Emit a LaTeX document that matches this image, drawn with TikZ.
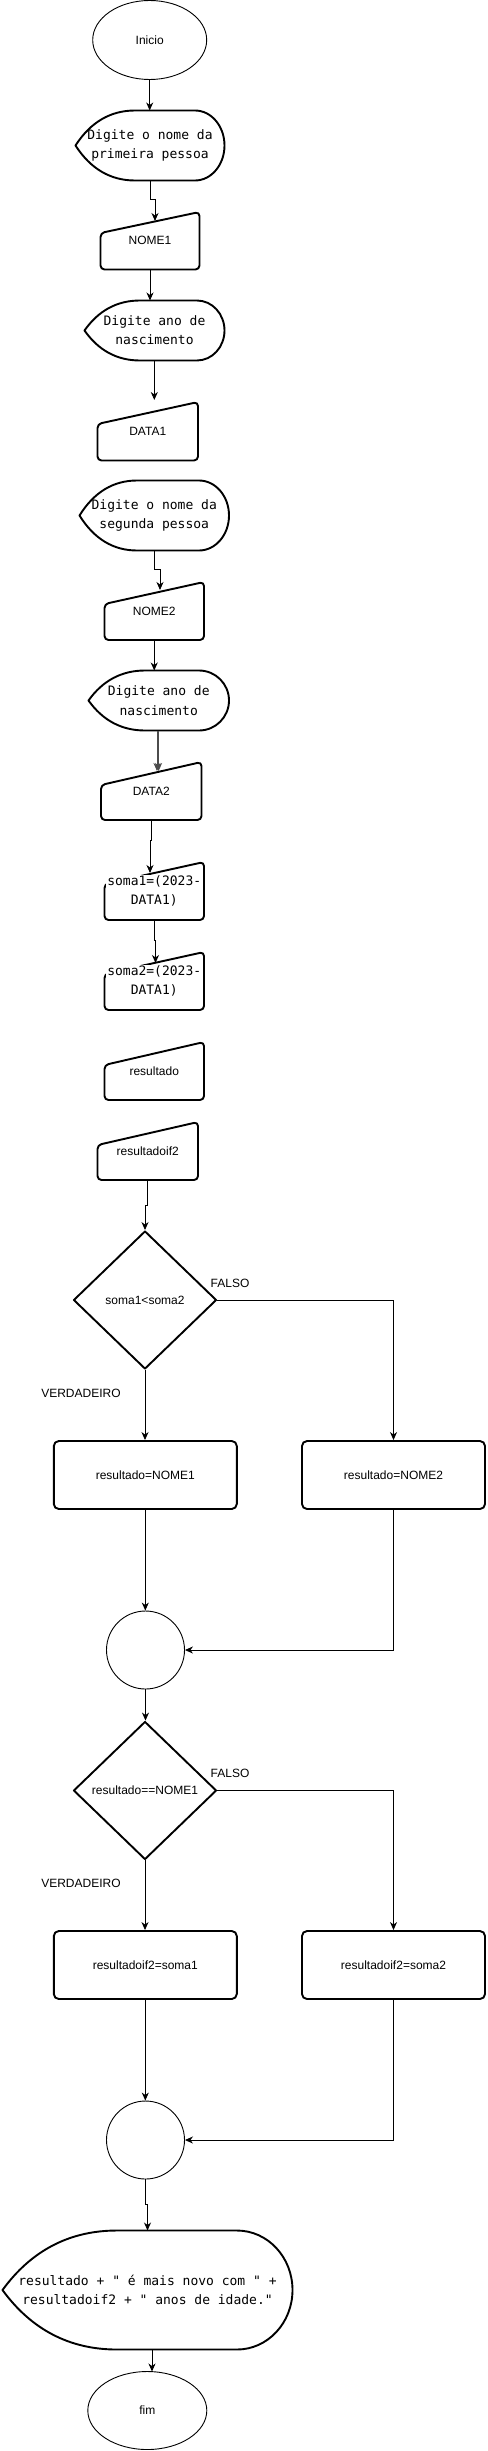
\documentclass[tikz,border=0pt]{standalone}
\usepackage{fontspec}
\setmainfont{Liberation Sans}
\newfontfamily\monof{DejaVu Sans Mono}
\usetikzlibrary{arrows.meta,shapes.geometric}
\tikzset{
  shp/.style={line width=1.9pt, line join=round},
  thinln/.style={line width=0.9pt},
  arr/.style={line width=0.9pt, -{Stealth[length=8pt,width=7pt,inset=2.5pt]}},
  bx/.style={draw=none, inner sep=0pt, outer sep=0pt},
  lbl/.style={font=\fontsize{12}{14}\selectfont, inner sep=0pt},
  mtxt/.style={font=\monof\fontsize{13}{19.3}\selectfont, align=center},
  proc/.style={draw, shp, rounded corners=5pt, minimum width=183, minimum height=68, inner sep=0pt, lbl},
  dec/.style={draw, shp, diamond, minimum width=143, minimum height=138, inner sep=0pt, lbl},
  conn/.style={draw, thinln, circle, minimum size=78, inner sep=0pt},
  term/.style={draw, thinln, ellipse, inner sep=0pt, lbl},
}
% manual input: name, x1, x2, yTL, yTR, yB, text
\newcommand\mninput[7]{%
  \draw[shp,rounded corners=4pt] (#2,#4) -- (#3,#5) -- (#3,#6) -- (#2,#6) -- cycle;
  \node[bx,lbl,minimum width={#3-#2},minimum height={#5-#6}] (#1) at ({(#2+#3)/2},{(#5+#6)/2}) {#7};
}
% display: name, x0, xa, xb, x1, ytop, ybot, text
\newcommand\dispshape[8]{%
  \pgfmathsetmacro\dspM{(#6+#7)/2}%
  \pgfmathsetmacro\dspH{(#6-#7)/2}%
  \pgfmathsetmacro\dspL{#3-#2}%
  \pgfmathsetmacro\dspR{#5-#4}%
  \draw[shp] (#2,\dspM) .. controls ({#2+0.253*\dspL},{\dspM+0.667*\dspH}) and ({#2+0.587*\dspL},#6) .. (#3,#6)
     -- (#4,#6) arc[start angle=90,end angle=-90,x radius=\dspR pt,y radius=\dspH pt]
     -- (#3,#7) .. controls ({#2+0.587*\dspL},#7) and ({#2+0.253*\dspL},{\dspM-0.667*\dspH}) .. cycle;
  \node[bx,mtxt,minimum width={#5-#2},minimum height={#6-#7}] (#1) at ({(#2+#5)/2},\dspM) {#8};
}
\begin{document}
\begin{tikzpicture}[x=1pt,y=1pt]
\useasboundingbox[fill=white] (0,0) rectangle (487,-2451);

\node[term,minimum width=114,minimum height=79] (ini) at (149.7,-40) {Inicio};

\dispshape{d1}{75.5}{135}{195}{224.5}{-110.5}{-180.5}{Digite o nome da\\primeira pessoa}
\mninput{nm1}{100.5}{199.5}{-233}{-212}{-269.5}{NOME1}
\dispshape{d2}{84.5}{140}{197}{224.5}{-300.5}{-360.5}{Digite ano de\\nascimento}
\mninput{dt1}{97.5}{198}{-424}{-402}{-460.5}{DATA1}
\dispshape{d3}{79.5}{137}{199}{229}{-480.5}{-550.5}{Digite o nome da\\segunda pessoa}
\mninput{nm2}{104.5}{204}{-604}{-582}{-640}{NOME2}
\dispshape{d4}{88.5}{145}{199}{229}{-670.5}{-730.5}{Digite ano de\\nascimento}
\mninput{dt2}{101}{201.5}{-785}{-762}{-820}{DATA2}
\mninput{s1}{104.5}{204}{-884}{-862}{-920}{}
\node[mtxt,fill=white,inner sep=1pt] (s1t) at (s1) {soma1=(2023-\\DATA1)};
\mninput{s2}{104.5}{204}{-974}{-952}{-1010}{}
\node[mtxt,fill=white,inner sep=1pt] (s2t) at (s2) {soma2=(2023-\\DATA1)};
\mninput{res}{104.5}{204}{-1065}{-1042}{-1100}{resultado}
\mninput{ri2}{97.5}{198}{-1145}{-1122}{-1180}{resultadoif2}

\node[dec] (dia1) at (145,-1300) {soma1<soma2};
\node[proc] (p1) at (145.3,-1475) {resultado=NOME1};
\node[proc] (p2) at (393.5,-1475) {resultado=NOME2};
\node[conn] (c1) at (145.5,-1650) {};
\node[dec] (dia2) at (145,-1790.5) {resultado==NOME1};
\node[proc] (p3) at (145.3,-1965) {resultadoif2=soma1};
\node[proc] (p4) at (393.5,-1965) {resultadoif2=soma2};
\node[conn] (c2) at (145.5,-2140) {};
\dispshape{d5}{2.5}{117}{237}{292.5}{-2230.5}{-2349.5}{resultado + " é mais novo com " +\\resultadoif2 + " anos de idade."}
\node[term,minimum width=119,minimum height=78] (fim) at (147.3,-2410.5) {fim};

\node[lbl] (f1) at (230,-1283) {FALSO};
\node[lbl] (v1) at (81,-1393) {VERDADEIRO};
\node[lbl] (f2) at (230,-1773) {FALSO};
\node[lbl] (v2) at (81,-1883) {VERDADEIRO};

\coordinate (nm1in) at (155,-221);
\coordinate (dt1in) at (154.3,-400);
\coordinate (nm2in) at (160,-590);
\coordinate (dt2in) at (157,-771);
\coordinate (s1in) at (150,-873);
\coordinate (s2in) at (155.5,-963);
\coordinate (fimin) at (152,-2371.5);

\draw[arr] (ini.south) -- (ini.south |- d1.north);
\draw[arr] (d1.south) -- ++(0,-19) -| (nm1in);
\draw[arr] (nm1.south) -- (nm1.south |- d2.north);
\draw[arr] (d2.south -| dt1in) -- (dt1in);
\draw[arr] (d3.south) -- ++(0,-19) -| (nm2in);
\draw[arr] (nm2.south) -- (nm2.south |- d4.north);
\draw[arr,draw=black!70] (d4.south -| dt2in) -- (dt2in);
\draw[arr,draw=black!70] ([xshift=1.6pt]d4.south -| dt2in) -- ([xshift=1.6pt]dt2in);
\draw[arr] (dt2.south) -- ++(0,-20) -| (s1in);
\draw[arr] (s1.south) -- ++(0,-20) -| (s2in);
\draw[arr] (ri2.south) -- ++(0,-25) -| (dia1.north);
\draw[arr] (dia1.south) -- (dia1.south |- p1.north);
\draw[arr] (dia1.east) -| (p2.north);
\draw[arr] (p1.south) -- (p1.south |- c1.north);
\draw[arr] (p2.south) |- (c1.east);
\draw[arr] (c1.south) -- (c1.south |- dia2.north);
\draw[arr] (dia2.south) -- (dia2.south |- p3.north);
\draw[arr] (dia2.east) -| (p4.north);
\draw[arr] (p3.south) -- (p3.south |- c2.north);
\draw[arr] (p4.south) |- (c2.east);
\draw[arr] (c2.south) -- ++(0,-25) -| (d5.north);
\draw[arr] (d5.south -| fimin) -- (fimin);
\end{tikzpicture}
\end{document}
